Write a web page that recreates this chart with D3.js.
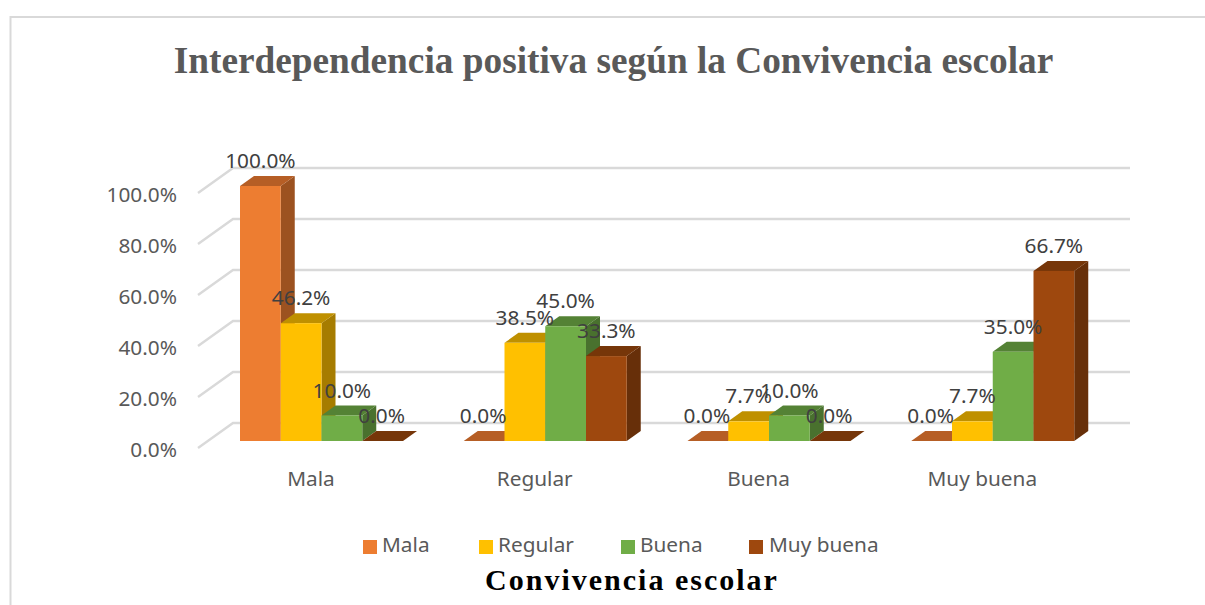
<!DOCTYPE html>
<html><head><meta charset="utf-8">
<script src="https://cdn.jsdelivr.net/npm/d3@7/dist/d3.min.js"></script>
<style>html,body{margin:0;padding:0;background:#fff}svg{display:block}</style>
</head><body><svg id="c" width="1205" height="605"></svg>
<script>
const categories = ["Mala","Regular","Buena","Muy buena"];
const seriesNames = ["Mala","Regular","Buena","Muy buena"];
const malaValues = [100.0,0.0,0.0,0.0];
const regularValues = [46.2,38.5,7.7,7.7];
const buenaValues = [10.0,45.0,10.0,35.0];
const muyBuenaValues = [0.0,33.3,0.0,66.7];
const yTicks = [0,20,40,60,80,100];
const frontColors = ["#ED7D31","#FFC000","#70AD47","#9E480E"];
const topColors = ["#B65E25","#BF9000","#548235","#763609"];
const sideColors = ["#9C5220","#A67C00","#49712E","#672F09"];
const allValues = [malaValues,regularValues,buenaValues,muyBuenaValues];

const svg = d3.select("#c");
const sansFont = "'Noto Sans',sans-serif";
const serifFont = "'Liberation Serif',serif";
const txt = "#404040", txtLight = "#595959";

// frame
svg.append("path").attr("d","M10.5 605V17H1205").attr("fill","none").attr("stroke","#d9d9d9").attr("stroke-width",2);

// scale: y is the height on the front plane of the bars
const y = d3.scaleLinear().domain([0,100]).range([441,186]);
const x0 = d3.scaleBand().domain(categories).range([198,1093]).paddingInner(0).paddingOuter(0);
const x1 = d3.scaleBand().domain(d3.range(4)).range([42,205]);

// wall geometry (offsets from bar plane)
const wallFront = {x:198,dy:7}, wallBack = {x:233,dy:-18};
const depth = {x:14,y:-10};

const grid = svg.append("g");
yTicks.forEach(t=>{
  const yy=y(t);
  grid.append("path")
    .attr("d",`M${wallFront.x} ${yy+wallFront.dy}L${wallBack.x} ${yy+wallBack.dy}H1130`)
    .attr("fill","none").attr("stroke","#d9d9d9").attr("stroke-width",2.4);
});

// stretched sans text helper
function label(parent,xp,yp,s,size,anchor,fill,sx){
  const g=parent.append("g").attr("transform",`translate(${xp},${yp}) scale(${sx},1)`);
  g.append("text").attr("text-anchor",anchor).attr("font-family",sansFont)
   .attr("font-size",size).attr("fill",fill).text(s);
}

// y axis labels
yTicks.forEach(t=>label(svg,177,y(t)+wallFront.dy+9,t.toFixed(1)+"%",20,"end",txtLight,1.04));

// bars
const bars = svg.append("g");
categories.forEach((c,ci)=>{
  d3.range(4).forEach(si=>{
    const v=allValues[si][ci];
    const bx=x0(c)+x1(si), bw=x1.bandwidth(), ty=y(v), by=y(0);
    const g=bars.append("g");
    g.append("path").attr("fill",sideColors[si])
      .attr("d",`M${bx+bw} ${by}V${ty}l${depth.x} ${depth.y}V${by+depth.y}Z`);
    g.append("path").attr("fill",topColors[si])
      .attr("d",`M${bx} ${ty}l${depth.x} ${depth.y}H${bx+bw+depth.x}L${bx+bw} ${ty}Z`);
    if(v>0) g.append("rect").attr("x",bx).attr("y",ty).attr("width",bw).attr("height",by-ty).attr("fill",frontColors[si]);
  });
});

// data labels
const labels = svg.append("g");
categories.forEach((c,ci)=>{
  d3.range(4).forEach(si=>{
    const v=allValues[si][ci];
    label(labels,x0(c)+x1(si)+x1.bandwidth()/2+(v===0?-1:0),y(v)-18,v.toFixed(1)+"%",20,"middle",txt,1.04);
  });
});

// category labels
categories.forEach(c=>label(svg,x0(c)+113,486,c,20,"middle",txtLight,1.04));

// legend
const legendSwatchX=[363,479,621,749], legendTextX=[382,498,640,769];
seriesNames.forEach((n,i)=>{
  svg.append("rect").attr("x",legendSwatchX[i]).attr("y",540).attr("width",14).attr("height",14).attr("fill",frontColors[i]);
  label(svg,legendTextX[i],552,n,20,"start",txtLight,1.04);
});

// titles
svg.append("text").attr("x",613.5).attr("y",73).attr("text-anchor","middle").attr("font-family",serifFont)
  .attr("font-weight","bold").attr("font-size",37.3).attr("fill","#595959").text("Interdependencia positiva según la Convivencia escolar");
svg.append("text").attr("x",632).attr("y",590).attr("text-anchor","middle").attr("font-family",serifFont)
  .attr("font-weight","bold").attr("font-size",30).attr("letter-spacing",2).attr("fill","#000").text("Convivencia escolar");
</script></body></html>
